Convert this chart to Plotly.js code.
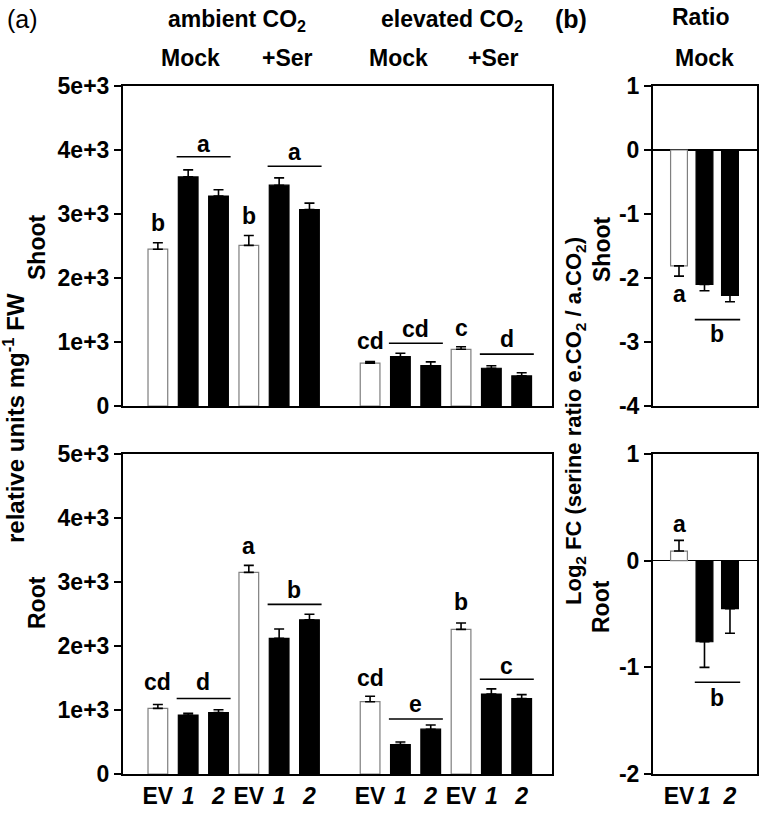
<!DOCTYPE html>
<html>
<head>
<meta charset="utf-8">
<script src="https://cdn.plot.ly/plotly-3.0.1.min.js"></script>
<style>html,body{margin:0;padding:0;background:#fff;}#chart{width:760px;height:813px;}</style>
</head>
<body>
<div id="chart"></div>
<script>
// ---------- DATA ----------
const categories = ['EV', '1', '2', 'EV', '1', '2', 'EV', '1', '2', 'EV', '1', '2'];
const lineTypes = ['EV', 'line', 'line', 'EV', 'line', 'line', 'EV', 'line', 'line', 'EV', 'line', 'line'];
const shootValues = [2450, 3580, 3280, 2510, 3450, 3070, 670, 770, 630, 886, 590, 470];
const shootErrors = [100, 110, 100, 155, 115, 100, 25, 55, 60, 40, 40, 50];
const rootValues = [1026, 920, 960, 3150, 2120, 2410, 1130, 460, 700, 2260, 1250, 1180];
const rootErrors = [60, 30, 45, 110, 145, 85, 85, 40, 65, 100, 80, 60];

const ratioCategories = ['EV', '1', '2'];
const ratioTypes = ['EV', 'line', 'line'];
const ratioShootValues = [-1.81, -2.10, -2.27];
const ratioShootErrors = [0.16, 0.10, 0.10];
const ratioRootValues = [0.09, -0.76, -0.45];
const ratioRootErrors = [0.10, 0.24, 0.23];

const yTickValues = [0, 1000, 2000, 3000, 4000, 5000];
const yTickLabels = ['0', '1e+3', '2e+3', '3e+3', '4e+3', '5e+3'];
const ratioShootTicks = [-4, -3, -2, -1, 0, 1];
const ratioShootTickLabels = ['-4', '-3', '-2', '-1', '0', '1'];
const ratioRootTicks = [-2, -1, 0, 1];
const ratioRootTickLabels = ['-2', '-1', '0', '1'];

// significance letters: text, first bar, last bar, letter baseline value, line value (null = no line)
const shootLetterText = ['b', 'a', 'b', 'a', 'cd', 'cd', 'c', 'd'];
const shootLetterFrom = [0, 1, 3, 4, 6, 7, 9, 10];
const shootLetterTo   = [0, 2, 3, 5, 6, 8, 9, 11];
const shootLetterY    = [2720, 3950, 2830, 3830, 875, 1060, 1080, 900];
const shootLineY      = [null, 3895, null, 3745, null, 980, null, 810];

const rootLetterText = ['cd', 'd', 'a', 'b', 'cd', 'e', 'b', 'c'];
const rootLetterFrom = [0, 1, 3, 4, 6, 7, 9, 10];
const rootLetterTo   = [0, 2, 3, 5, 6, 8, 9, 11];
const rootLetterY    = [1290, 1290, 3420, 2740, 1360, 950, 2540, 1550];
const rootLineY      = [null, 1180, null, 2650, null, 860, null, 1480];

const ratioShootLetterText = ['a', 'b'];
const ratioShootLetterFrom = [0, 1];
const ratioShootLetterTo   = [0, 2];
const ratioShootLetterY    = [-2.39, -3.02];
const ratioShootLineY      = [null, -2.65];

const ratioRootLetterText = ['a', 'b'];
const ratioRootLetterFrom = [0, 1];
const ratioRootLetterTo   = [0, 2];
const ratioRootLetterY    = [0.26, -1.37];
const ratioRootLineY      = [null, -1.14];

// ---------- BUILD ----------
const W = 760, H = 813;
const FONT = 'Arial, "Liberation Sans", sans-serif';
const px = v => v / W;
const py = v => 1 - v / H;

// slot index: a blank slot between ambient and elevated groups
const slots = categories.map((c, i) => i + Math.floor(i / 6));
const ratioSlots = ratioCategories.map((c, i) => i);
const tickText = cs => cs.map(c => c === 'EV' ? '<b>EV</b>' : '<b><i>' + c + '</i></b>');

const fillOf = t => t === 'EV' ? '#ffffff' : '#000000';
const edgeOf = t => t === 'EV' ? '#7f7f7f' : '#000000';

function barTrace(x, y, err, types, xa, ya, w) {
  const up = y.map((v, i) => v >= 0 ? err[i] : 0);
  const down = y.map((v, i) => v < 0 ? err[i] : 0);
  return {
    type: 'bar', x: x, y: y, xaxis: xa, yaxis: ya, width: w,
    marker: { color: types.map(fillOf), line: { color: types.map(edgeOf), width: 1.2 } },
    error_y: { type: 'data', symmetric: false, array: up, arrayminus: down,
               color: '#000', thickness: 1.6, width: 5 },
    hoverinfo: 'skip', showlegend: false
  };
}

const data = [
  barTrace(slots, shootValues, shootErrors, lineTypes, 'x', 'y', 0.65),
  barTrace(slots, rootValues, rootErrors, lineTypes, 'x2', 'y2', 0.65),
  barTrace(ratioSlots, ratioShootValues, ratioShootErrors, ratioTypes, 'x3', 'y3', 0.66),
  barTrace(ratioSlots, ratioRootValues, ratioRootErrors, ratioTypes, 'x4', 'y4', 0.66)
];

const annotations = [];
const shapes = [];
const LSIZE = 23;

function addLetters(texts, from, to, ys, lineYs, xIdx, xr, yr) {
  texts.forEach((t, i) => {
    const a = xIdx[from[i]], b = xIdx[to[i]];
    annotations.push({
      xref: xr, yref: yr, x: (a + b) / 2, y: ys[i], text: '<b>' + t + '</b>',
      showarrow: false, xanchor: 'center', yanchor: 'bottom', yshift: -6,
      font: { family: FONT, size: LSIZE, color: '#000' }
    });
    if (lineYs[i] !== null) {
      shapes.push({ type: 'line', xref: xr, yref: yr, x0: a - 0.38, x1: b + 0.4,
                    y0: lineYs[i], y1: lineYs[i], line: { color: '#000', width: 1.6 } });
    }
  });
}
addLetters(shootLetterText, shootLetterFrom, shootLetterTo, shootLetterY, shootLineY, slots, 'x', 'y');
addLetters(rootLetterText, rootLetterFrom, rootLetterTo, rootLetterY, rootLineY, slots, 'x2', 'y2');
addLetters(ratioShootLetterText, ratioShootLetterFrom, ratioShootLetterTo, ratioShootLetterY, ratioShootLineY, ratioSlots, 'x3', 'y3');
addLetters(ratioRootLetterText, ratioRootLetterFrom, ratioRootLetterTo, ratioRootLetterY, ratioRootLineY, ratioSlots, 'x4', 'y4');

function paperText(text, x, y, size, opts) {
  annotations.push(Object.assign({
    xref: 'paper', yref: 'paper', x: px(x), y: py(y), text: text, showarrow: false,
    xanchor: 'center', yanchor: 'middle',
    font: { family: FONT, size: size, color: '#000' }
  }, opts || {}));
}
paperText('(a)', 22, 19, 25);
paperText('<b>ambient CO<sub>2</sub></b>', 237, 21, 23);
paperText('<b>elevated CO<sub>2</sub></b>', 452, 21, 23);
paperText('<b>(b)</b>', 571, 19, 25);
paperText('<b>Ratio</b>', 701, 17, 23);
paperText('<b>Mock</b>', 190, 58, 23);
paperText('<b>+Ser</b>', 287, 58, 23);
paperText('<b>Mock</b>', 398, 58, 23);
paperText('<b>+Ser</b>', 493, 58, 23);
paperText('<b>Mock</b>', 704, 58, 23);
paperText('<b>relative units mg<sup>-1</sup> FW</b>', 14, 418, 24, { textangle: -90 });
paperText('<b>Shoot</b>', 37, 248, 23, { textangle: -90 });
paperText('<b>Root</b>', 37, 603, 23, { textangle: -90 });
paperText('<b>Log<sub>2</sub> FC (serine ratio e.CO<sub>2</sub> / a.CO<sub>2</sub>)</b>', 575, 421, 22, { textangle: -90 });
paperText('<b>Shoot</b>', 602, 250, 23, { textangle: -90 });
paperText('<b>Root</b>', 601, 607, 23, { textangle: -90 });

const tickFont = { family: FONT, size: 23, color: '#000', weight: 'bold' };
const baseX = { showline: true, mirror: true, linecolor: '#000', linewidth: 2, showgrid: false,
                zeroline: false, ticks: '', fixedrange: true };
const baseY = { showline: true, mirror: true, linecolor: '#000', linewidth: 2, showgrid: false,
                ticks: 'outside', ticklen: 7, tickwidth: 2, tickcolor: '#000', tickfont: tickFont,
                fixedrange: true };

const layout = {
  width: W, height: H, margin: { l: 0, r: 0, t: 0, b: 0 },
  paper_bgcolor: '#fff', plot_bgcolor: '#fff', showlegend: false, bargap: 0,
  xaxis: Object.assign({}, baseX, { domain: [px(123), px(552)], range: [-1.15, 13], anchor: 'y', showticklabels: false }),
  yaxis: Object.assign({}, baseY, { domain: [py(406), py(86)], range: [0, 5000], anchor: 'x',
                                    tickvals: yTickValues, ticktext: yTickLabels, zeroline: false }),
  xaxis2: Object.assign({}, baseX, { domain: [px(123), px(552)], range: [-1.15, 13], anchor: 'y2',
                                     tickvals: slots, ticktext: tickText(categories), tickfont: tickFont }),
  yaxis2: Object.assign({}, baseY, { domain: [py(774), py(454)], range: [0, 5000], anchor: 'x2',
                                     tickvals: yTickValues, ticktext: yTickLabels, zeroline: false }),
  xaxis3: Object.assign({}, baseX, { domain: [px(653), px(757)], range: [-1.02, 3.06], anchor: 'y3', showticklabels: false }),
  yaxis3: Object.assign({}, baseY, { domain: [py(406), py(86)], range: [-4, 1], anchor: 'x3',
                                     tickvals: ratioShootTicks, ticktext: ratioShootTickLabels,
                                     zeroline: true, zerolinecolor: '#000', zerolinewidth: 2 }),
  xaxis4: Object.assign({}, baseX, { domain: [px(653), px(757)], range: [-1.02, 3.06], anchor: 'y4',
                                     tickvals: ratioSlots, ticktext: tickText(ratioCategories), tickfont: tickFont }),
  yaxis4: Object.assign({}, baseY, { domain: [py(774), py(454)], range: [-2, 1], anchor: 'x4',
                                     tickvals: ratioRootTicks, ticktext: ratioRootTickLabels,
                                     zeroline: true, zerolinecolor: '#000', zerolinewidth: 1.5 }),
  annotations: annotations,
  shapes: shapes
};

Plotly.newPlot('chart', data, layout, { displayModeBar: false, staticPlot: true });
</script>
</body>
</html>
